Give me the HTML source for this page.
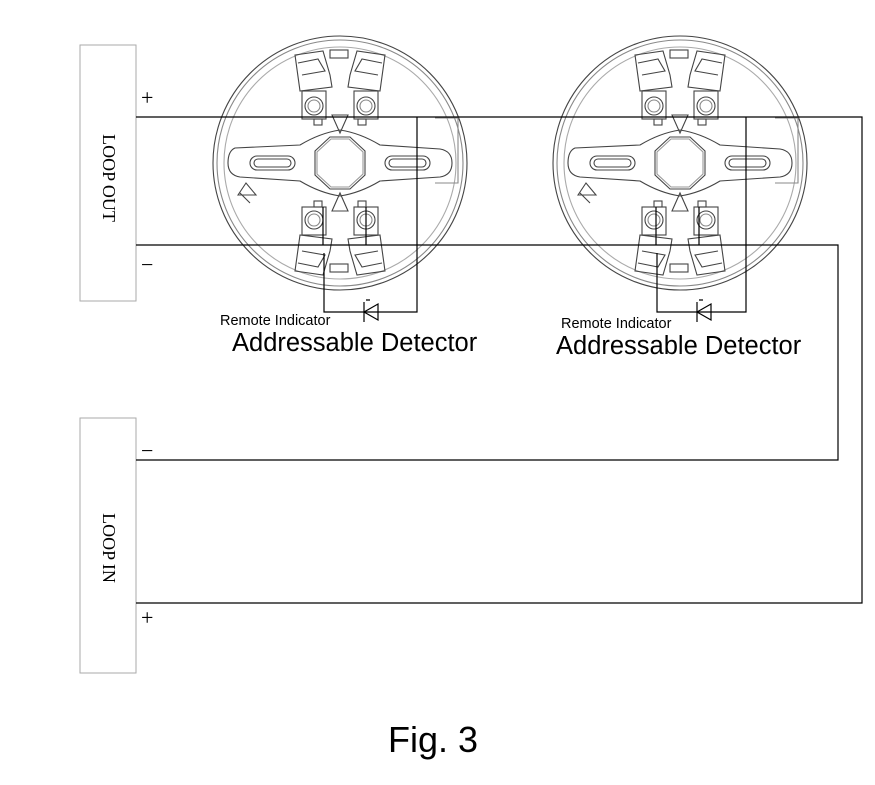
<!DOCTYPE html>
<html><head><style>body{margin:0;background:#fff}svg{display:block}</style></head><body>
<svg width="875" height="785" viewBox="0 0 875 785" xmlns="http://www.w3.org/2000/svg">
<defs>
<g id="base" fill="none" stroke="#444" stroke-width="1.1">
  <circle cx="0" cy="0" r="127"/>
  <circle cx="0" cy="0" r="123" stroke="#888"/>
  <circle cx="0" cy="0" r="116" stroke="#aaa"/>
  <path d="M-105,-15 Q-112,-12 -112,0 Q-112,12 -100,14 L-40,18 Q-20,30 0,33 Q20,30 40,18 L100,14 Q112,12 112,0 Q112,-12 100,-14 L40,-18 Q20,-30 0,-33 Q-20,-30 -40,-18 Z"/>
  <path d="M-25,-12 L-10,-26 L10,-26 L25,-12 L25,12 L10,26 L-10,26 L-25,12 Z"/>
  <path d="M-23,-11 L-9,-24 L9,-24 L23,-11 L23,11 L9,24 L-9,24 L-23,11 Z" stroke="#999"/>
  <rect x="-90" y="-7" width="45" height="14" rx="7"/>
  <rect x="-86" y="-4" width="37" height="8" rx="4"/>
  <rect x="45" y="-7" width="45" height="14" rx="7"/>
  <rect x="49" y="-4" width="37" height="8" rx="4"/>
  <g id="term">
    <path d="M-45,-108 L-17,-112 L-10,-88 L-8,-76 L-40,-72 Z"/>
    <path d="M-42,-100 L-22,-104 L-15,-92 L-38,-88"/>
    <rect x="-38" y="-72" width="24" height="28"/>
    <circle cx="-26" cy="-57" r="9"/>
    <circle cx="-26" cy="-57" r="6" stroke="#888"/>
    <rect x="-26" y="-44" width="8" height="6"/>
  </g>
  <use href="#term" transform="scale(-1,1)"/>
  <use href="#term" transform="scale(1,-1)"/>
  <use href="#term" transform="scale(-1,-1)"/>
  <path d="M-8,-48 L0,-30 L8,-48 Z M-8,48 L0,30 L8,48 Z"/>
  <rect x="-10" y="-113" width="18" height="8"/>
  <rect x="-10" y="101" width="18" height="8"/>
  <path d="M95,-45 L118,-45 L118,20 L95,20" stroke="#888"/>
  <path d="M-102,32 L-94,20 L-84,32 Z M-100,30 L-90,40"/>
</g>
</defs>
<use href="#base" x="340" y="163"/>
<use href="#base" x="680" y="163"/>
<g fill="none" stroke="#aaa" stroke-width="1">
  <rect x="80" y="45" width="56" height="256"/>
  <rect x="80" y="418" width="56" height="255"/>
</g>
<g fill="none" stroke="#000" stroke-width="1.2">
  <polyline points="136,117 862,117 862,603 136,603"/>
  <polyline points="136,245 838,245 838,460 136,460"/>
  <polyline points="417,117 417,312 324,312 324,253"/>
  <line x1="323" y1="207" x2="323" y2="245"/>
  <line x1="366" y1="207" x2="366" y2="245"/>
  <polyline points="746,117 746,312 657,312 657,253"/>
  <line x1="656" y1="207" x2="656" y2="245"/>
  <line x1="699" y1="207" x2="699" y2="245"/>
  <path d="M364,302 L364,322 M364,312 L378,304 L378,320 Z M366,300 L370,300"/>
  <path d="M697,302 L697,322 M697,312 L711,304 L711,320 Z M699,300 L703,300"/>
</g>
<g font-family="Liberation Serif, serif" font-size="22" fill="#000">
  <text x="141" y="105">+</text>
  <text x="141" y="272">−</text>
  <text x="141" y="458">−</text>
  <text x="141" y="625">+</text>
  <text transform="translate(103,178) rotate(90)" text-anchor="middle" font-size="18">LOOP  OUT</text>
  <text transform="translate(103,548) rotate(90)" text-anchor="middle" font-size="18">LOOP  IN</text>
</g>
<g font-family="Liberation Sans, sans-serif" fill="#000">
  <text x="220" y="325" font-size="14.5">Remote Indicator</text>
  <text x="232" y="351" font-size="25.5">Addressable Detector</text>
  <text x="561" y="328" font-size="14.5">Remote Indicator</text>
  <text x="556" y="354" font-size="25.5">Addressable Detector</text>
  <text x="388" y="752" font-size="36">Fig. 3</text>
</g>
</svg>
</body></html>
